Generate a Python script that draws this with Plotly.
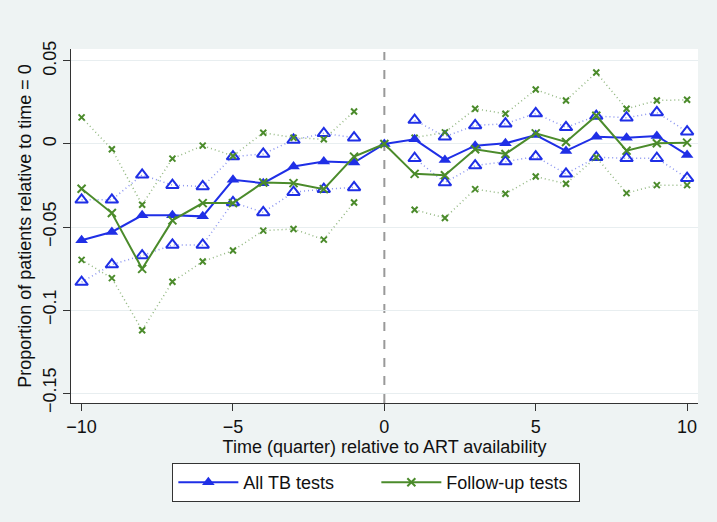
import plotly.graph_objects as go

quarters = list(range(-10, 11))

all_tb = [-0.058, -0.053, -0.043, -0.043, -0.0436, -0.0216, -0.0236, -0.0136, -0.0106, -0.0112, 0.0,
          0.0028, -0.0096, -0.001, 0.0004, 0.0054, -0.0042, 0.0044, 0.0038, 0.0048, -0.0066]
all_tb_hi = [-0.0336, -0.0336, -0.0186, -0.0248, -0.0256, -0.0076, -0.006, 0.0024, 0.0064, 0.0038, None,
             0.0144, 0.0044, 0.0112, 0.0122, 0.0184, 0.010, 0.0168, 0.0158, 0.019, 0.0074]
all_tb_lo = [-0.0832, -0.0726, -0.0672, -0.0608, -0.0608, -0.0352, -0.0412, -0.029, -0.0272, -0.0262, None,
             -0.0086, -0.0232, -0.013, -0.0106, -0.0076, -0.018, -0.008, -0.0086, -0.0086, -0.0206]

follow = [-0.027, -0.0416, -0.0752, -0.046, -0.0356, -0.0356, -0.0232, -0.0236, -0.0272, -0.0076, 0.0,
          -0.018, -0.0188, -0.0032, -0.006, 0.0064, 0.0012, 0.017, -0.004, 0.0004, 0.0008]
follow_hi = [0.016, -0.0032, -0.0366, -0.0088, -0.001, -0.0072, 0.0068, 0.0038, 0.0028, 0.0196, None,
             0.0038, 0.007, 0.0212, 0.0182, 0.0328, 0.0262, 0.043, 0.0212, 0.0262, 0.0266]
follow_lo = [-0.0698, -0.0808, -0.1122, -0.083, -0.0708, -0.0642, -0.0522, -0.0512, -0.0576, -0.0352, None,
             -0.0396, -0.0446, -0.0272, -0.030, -0.0196, -0.024, -0.008, -0.0296, -0.0248, -0.0248]

x_ticks = [-10, -5, 0, 5, 10]
y_ticks = [0.05, 0, -0.05, -0.1, -0.15]
y_tick_text = ["0.05", "0", "\u22120.05", "\u22120.1", "\u22120.15"]
x_tick_text = ["\u221210", "\u22125", "0", "5", "10"]

BLUE = "#1f2fe6"
BLUE_CI = "#8a94f0"
GREEN = "#4b8b2b"
GREEN_CI = "#93b882"
BG = "#eef3f3"

fig = go.Figure()

for ys in (all_tb_hi, all_tb_lo):
    fig.add_trace(go.Scatter(x=quarters, y=ys, mode="lines+markers", showlegend=False,
                             connectgaps=False,
                             line=dict(color=BLUE_CI, width=1.5, dash="1px,3px"),
                             marker=dict(symbol="triangle-up-open", size=11, color=BLUE,
                                         line=dict(color=BLUE, width=2))))
for ys in (follow_hi, follow_lo):
    fig.add_trace(go.Scatter(x=quarters, y=ys, mode="lines+markers", showlegend=False,
                             connectgaps=False,
                             line=dict(color=GREEN_CI, width=1.5, dash="1px,3px"),
                             marker=dict(symbol="x-thin-open", size=6, color=GREEN,
                                         line=dict(color=GREEN, width=2))))

fig.add_trace(go.Scatter(x=quarters, y=all_tb, mode="lines+markers", name="All TB tests",
                         line=dict(color=BLUE, width=2),
                         marker=dict(symbol="triangle-up", size=11, color=BLUE)))
fig.add_trace(go.Scatter(x=quarters, y=follow, mode="lines+markers", name="Follow-up tests",
                         line=dict(color=GREEN, width=2),
                         marker=dict(symbol="x-thin-open", size=8, color=GREEN,
                                     line=dict(color=GREEN, width=2))))

fig.add_shape(type="line", xref="x", yref="paper", x0=0, x1=0, y0=0, y1=1,
              line=dict(color="#999999", width=2, dash="dash"), layer="below")

fig.update_layout(
    width=717, height=522,
    margin=dict(l=71, r=19, t=49, b=119, autoexpand=False),
    paper_bgcolor=BG,
    plot_bgcolor="white",
    font=dict(family="Liberation Sans, Arial, sans-serif", size=18, color="#111111"),
    legend=dict(orientation="h", x=0.487, xanchor="center",
                yref="container", y=0.113, yanchor="top",
                bgcolor="white", bordercolor="#333333", borderwidth=1,
                font=dict(size=18), entrywidth=128, itemwidth=60),
    xaxis=dict(range=[-10.35, 10.36], tickvals=x_ticks, ticktext=x_tick_text,
               showgrid=False, zeroline=False, showline=True, linecolor="#333333", linewidth=1,
               ticks="outside", ticklen=7, tickcolor="#333333", tickfont=dict(size=18),
               title=dict(text="Time (quarter) relative to ART availability", standoff=3,
                          font=dict(size=18))),
    yaxis=dict(range=[-0.156, 0.0572], tickvals=y_ticks, ticktext=y_tick_text, tickangle=-90,
               showgrid=True, gridcolor="#e8eef0", gridwidth=1, zeroline=False,
               showline=True, linecolor="#333333", linewidth=1,
               ticks="outside", ticklen=7, tickcolor="#333333", tickfont=dict(size=18),
               title=dict(text="Proportion of patients relative to time = 0", standoff=3,
                          font=dict(size=18))),
)

fig.write_html("out.html", config={"displayModeBar": False},
               post_script="document.body.style.margin='0';document.body.style.background='%s';" % BG)
